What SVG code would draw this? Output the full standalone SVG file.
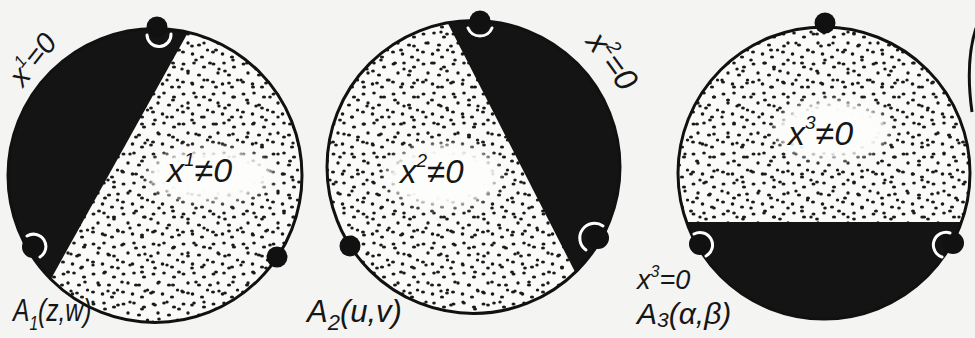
<svg xmlns="http://www.w3.org/2000/svg" width="975" height="338" viewBox="0 0 975 338">
  <style>
    .outline{fill:none;stroke:#111;stroke-width:3}
    .black{fill:#141414}
    .base{fill:#fbfbfa}
    .dots{fill:url(#dotsA)}
    .dots2{fill:url(#dotsB)}
    .blob{fill:#fdfdfc;filter:url(#soft)}
    .crescent{fill:none;stroke:#fff;stroke-width:3;stroke-linecap:round}
    .pt{fill:#111}
    .lbl{font-family:"Liberation Sans","DejaVu Sans",sans-serif;font-style:italic;fill:#161616}
  </style>
  <defs>
    <pattern id="dotsA" width="30" height="30" patternUnits="userSpaceOnUse">
      <g fill="#1a1a1a">
        <ellipse cx="3.5" cy="4" rx="2" ry="1.6"/>
        <ellipse cx="14" cy="3" rx="1.8" ry="1.6"/>
        <ellipse cx="24" cy="7" rx="2.1" ry="1.5"/>
        <ellipse cx="8" cy="13" rx="1.7" ry="1.7"/>
        <ellipse cx="19" cy="15" rx="2.1" ry="1.6"/>
        <ellipse cx="27.5" cy="20" rx="1.7" ry="1.6"/>
        <ellipse cx="3" cy="22" rx="2" ry="1.6"/>
        <ellipse cx="12.5" cy="24" rx="1.8" ry="1.7"/>
        <ellipse cx="22" cy="27" rx="2.1" ry="1.5"/>
      </g>
    </pattern>
    <pattern id="dotsB" width="37" height="37" patternUnits="userSpaceOnUse">
      <g fill="#1a1a1a">
        <ellipse cx="7" cy="9" rx="1.9" ry="1.6"/>
        <ellipse cx="19" cy="6" rx="1.7" ry="1.5"/>
        <ellipse cx="31" cy="13" rx="2" ry="1.6"/>
        <ellipse cx="11" cy="23" rx="1.8" ry="1.6"/>
        <ellipse cx="25" cy="26" rx="2" ry="1.5"/>
        <ellipse cx="34" cy="32" rx="1.7" ry="1.6"/>
        <ellipse cx="3" cy="34" rx="1.9" ry="1.5"/>
      </g>
    </pattern>
    <filter id="soft" x="-50%" y="-80%" width="200%" height="260%">
      <feGaussianBlur stdDeviation="5"/>
    </filter>
  </defs>

  <rect width="975" height="338" fill="#f4f4f2"/>

  <!-- Figure 1 -->
  <g id="fig1">
    <circle class="base" cx="155" cy="175.5" r="147"/>
    <circle class="dots" cx="155" cy="175.5" r="147"/>
    <circle class="dots2" cx="155" cy="175.5" r="147"/>
    <ellipse class="blob" cx="210" cy="175" rx="62" ry="26"/>
    <path class="black" d="M188.1 32.3 L50.8 279.2 A147 147 0 0 1 188.1 32.3 Z"/>
    <circle class="outline" cx="155" cy="175.5" r="147"/>
    <circle class="pt" cx="157" cy="27" r="10.5"/>
    <circle class="pt" cx="33" cy="247" r="11"/>
    <circle class="pt" cx="277" cy="257" r="10.5"/>
    <path class="crescent" d="M147 35 A12 12 0 0 0 171 34"/>
    <path class="crescent" d="M27 236 A12 12 0 0 1 40 257"/>
    <text class="lbl" x="167" y="182" font-size="34">x<tspan font-size="19" dy="-16">1</tspan><tspan dy="16">≠0</tspan></text>
    <text class="lbl" transform="translate(23,88) rotate(-52)" font-size="29">x<tspan font-size="17" dy="-13">1</tspan><tspan dy="13">=0</tspan></text>
    <text class="lbl" transform="translate(13,321) scale(0.77,1)" font-size="32">A<tspan font-size="20" dy="9">1</tspan><tspan dy="-9">(z,w)</tspan></text>
  </g>

  <!-- Figure 2 -->
  <g id="fig2">
    <circle class="base" cx="473.5" cy="167" r="146.5"/>
    <circle class="dots" cx="473.5" cy="167" r="146.5"/>
    <circle class="dots2" cx="473.5" cy="167" r="146.5"/>
    <ellipse class="blob" cx="443" cy="176" rx="56" ry="31"/>
    <path class="black" d="M447.6 22.8 A146.5 146.5 0 0 1 575.3 272.4 Z"/>
    <circle class="outline" cx="473.5" cy="167" r="146.5"/>
    <circle class="pt" cx="480" cy="21" r="10.5"/>
    <circle class="pt" cx="350" cy="246" r="10.5"/>
    <circle class="pt" cx="598" cy="238" r="11"/>
    <path class="crescent" d="M468 28 A13 13 0 0 0 492 28"/>
    <path class="crescent" d="M603 226 A13 13 0 0 0 586 250"/>
    <text class="lbl" x="400" y="183" font-size="33">x<tspan font-size="19" dy="-16">2</tspan><tspan dy="16">≠0</tspan></text>
    <text class="lbl" transform="translate(585,42) rotate(54)" font-size="32">x<tspan font-size="19" dy="-14">2</tspan><tspan dy="14">=0</tspan></text>
    <text class="lbl" x="307" y="322" font-size="31">A<tspan font-size="22" dy="8">2</tspan><tspan dy="-8">(u,v)</tspan></text>
  </g>

  <!-- Figure 3 -->
  <g id="fig3">
    <circle class="base" cx="824" cy="173" r="146"/>
    <circle class="dots" cx="824" cy="173" r="146"/>
    <circle class="dots2" cx="824" cy="173" r="146"/>
    <ellipse class="blob" cx="832" cy="130" rx="56" ry="29"/>
    <path class="black" d="M686.5 222 L961.5 222 A146 146 0 0 1 686.5 222 Z"/>
    <circle class="outline" cx="824" cy="173" r="146"/>
    <circle class="pt" cx="825" cy="23" r="10.5"/>
    <circle class="pt" cx="700" cy="244" r="11"/>
    <circle class="pt" cx="953" cy="243" r="11"/>
    <path class="crescent" d="M694 234 A12 12 0 0 1 706 256"/>
    <path class="crescent" d="M950 233 A12 12 0 0 0 942 257"/>
    <text class="lbl" x="788" y="145" font-size="34">x<tspan font-size="19" dy="-16">3</tspan><tspan dy="16">≠0</tspan></text>
    <text class="lbl" x="637" y="289" font-size="27">x<tspan font-size="16" dy="-12">3</tspan><tspan dy="12">=0</tspan></text>
    <text class="lbl" x="637" y="324" font-size="30">A<tspan font-size="21" dy="3">3</tspan><tspan dy="-3">(α,β)</tspan></text>
  </g>

  <!-- partial figure at right edge -->
  <path id="edge" d="M976 28 Q965 62 972 112" fill="none" stroke="#111" stroke-width="3"/>
</svg>
